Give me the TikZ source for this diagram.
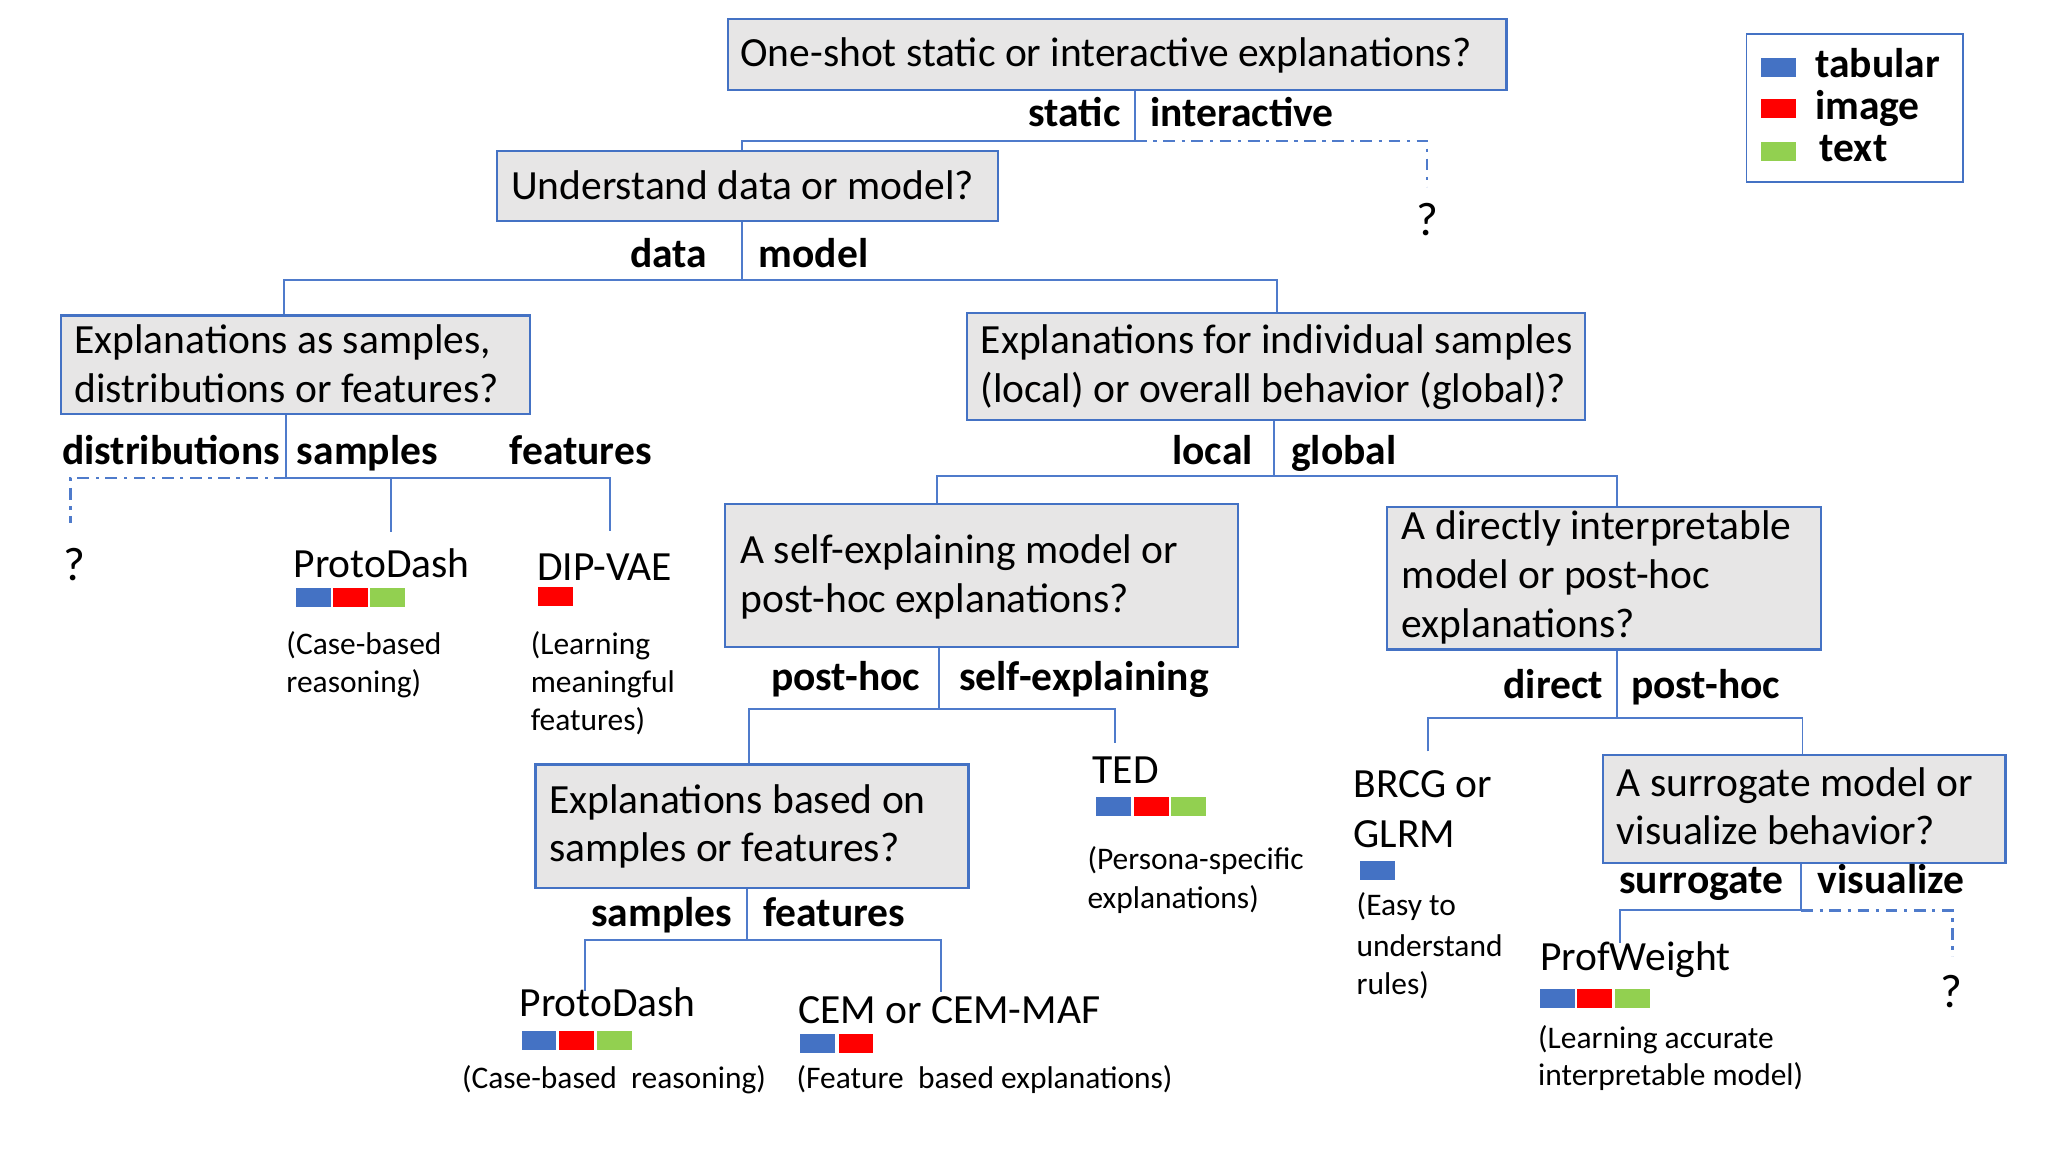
\documentclass[tikz,border=0pt]{standalone}
\usepackage{fontspec}
\setmainfont{Carlito}
\definecolor{boxblue}{HTML}{4472C4}
\definecolor{lineblue}{HTML}{4F7BCB}
\definecolor{boxgray}{RGB}{231,230,230}
\definecolor{tabb}{HTML}{4472C4}
\definecolor{imgr}{HTML}{FF0000}
\definecolor{txtg}{HTML}{92D050}
\tikzset{
  qbox/.style={draw=boxblue, fill=boxgray, line width=1.8pt, inner sep=0pt, anchor=north west},
  legbox/.style={draw=boxblue, fill=white, line width=1.5pt, inner sep=0pt, anchor=north west},
  qtext/.style={anchor=base west, inner sep=0pt, font=\fontsize{31.7}{37}\selectfont},
  lblL/.style={anchor=base east, inner sep=0pt, font=\bfseries\fontsize{31.7}{37}\selectfont},
  lblR/.style={anchor=base west, inner sep=0pt, font=\bfseries\fontsize{31.7}{37}\selectfont},
  leaf/.style={anchor=base west, inner sep=0pt, font=\fontsize{31.7}{37}\selectfont},
  desc/.style={anchor=base west, inner sep=0pt, font=\fontsize{24}{29}\selectfont},
  qmark/.style={anchor=base, inner sep=0pt, font=\fontsize{36}{40}\selectfont},
  conn/.style={draw=lineblue, line width=1.5pt},
  ddash/.style={draw=lineblue, line width=1.9pt, dash pattern=on 9pt off 5pt on 2.5pt off 5pt},
  sq/.style={anchor=north west, inner sep=0pt, minimum width=26.5pt, minimum height=14.5pt},
}
\begin{document}
\begin{tikzpicture}[x=1pt,y=-1pt]
\useasboundingbox (0,0) rectangle (1568,876.4);

% ---------- boxes ----------
\node[qbox, minimum width=594pt, minimum height=54.5pt] (b1) at (555,13.4) {};
\node[qbox, minimum width=382.5pt, minimum height=53.5pt] (b2) at (378.5,114.5) {};
\node[qbox, minimum width=358pt, minimum height=75pt] (b3) at (45.5,240) {};
\node[qbox, minimum width=471.5pt, minimum height=81.8pt] (b4) at (737.5,238) {};
\node[qbox, minimum width=391.5pt, minimum height=109pt] (b5) at (552.5,384) {};
\node[qbox, minimum width=331pt, minimum height=109pt] (b6) at (1058,386) {};
\node[qbox, minimum width=330.5pt, minimum height=94.1pt] (b7) at (408,582.7) {};
\node[qbox, minimum width=307pt, minimum height=82.6pt] (b8) at (1223,575.4) {};
\node[legbox, minimum width=165.5pt, minimum height=112.6pt] (leg) at (1332.5,25.4) {};

% ---------- box texts ----------
\node[qtext] (t1) at (565,51) {One-shot static or interactive explanations?};
\node[qtext] (t2) at (390,152) {Understand data or model?};
\node[qtext] (t3a) at (56.5,269.5) {Explanations as samples,};
\node[qtext] (t3b) at (56.5,307) {distributions or features?};
\node[qtext] (t4a) at (748.5,269.5) {Explanations for individual samples};
\node[qtext] (t4b) at (748.5,307) {(local) or overall behavior (global)?};
\node[qtext] (t5a) at (565,430) {A self-explaining model or};
\node[qtext] (t5b) at (565,467.5) {post-hoc explanations?};
\node[qtext] (t6a) at (1070,412) {A directly interpretable};
\node[qtext] (t6b) at (1070,449.5) {model or post-hoc};
\node[qtext] (t6c) at (1070,487) {explanations?};
\node[qtext] (t7a) at (419,621) {Explanations based on};
\node[qtext] (t7b) at (419,657.5) {samples or features?};
\node[qtext] (t8a) at (1234,608) {A surrogate model or};
\node[qtext] (t8b) at (1234,645) {visualize behavior?};

% ---------- branch labels ----------
\node[lblL] (l1a) at (855.5,96.4) {static};
\node[lblR] (l1b) at (878,96.4) {interactive};
\node[lblL] (l2a) at (540,204) {data};
\node[lblR] (l2b) at (579,204) {model};
\node[lblL] (l3a) at (214,354.7) {distributions};
\node[lblR] (l3b) at (226.5,354.7) {samples};
\node[lblR] (l3c) at (389,354.7) {features};
\node[lblL] (l4a) at (956.5,354.7) {local};
\node[lblR] (l4b) at (985.5,354.7) {global};
\node[lblL] (l5a) at (702.5,526.8) {post-hoc};
\node[lblR] (l5b) at (732,526.8) {self-explaining};
\node[lblL] (l7a) at (559,707.5) {samples};
\node[lblR] (l7b) at (582.5,707.5) {features};
\node[lblL] (l6a) at (1224,533) {direct};
\node[lblR] (l6b) at (1245,533) {post-hoc};
\node[lblL] (l8a) at (1361.5,682) {surrogate};
\node[lblR] (l8b) at (1387.5,682) {visualize};

% ---------- connectors ----------
\coordinate (j1) at (866.5,107.5);
\coordinate (j1l) at (566.5,107.5);
\coordinate (j1r) at (1089.5,107.5);
\coordinate (q1) at (1089.5,142.5);
\draw[conn] (b1.south -| j1) -- (j1) -- (j1l) -- (b2.north -| j1l);
\draw[ddash] (j1) -- (j1r) -- (q1);
\node[qmark] (qm1) at (1089.5,180) {?};

\coordinate (j2) at (566.5,213.7);
\coordinate (j2l) at (216.5,213.7);
\coordinate (j2r) at (974.5,213.7);
\draw[conn] (b2.south -| j2) -- (j2);
\draw[conn] (b3.north -| j2l) -- (j2l) -- (j2r) -- (b4.north -| j2r);

\coordinate (j3) at (218.5,365);
\coordinate (j3a) at (298.5,365);
\coordinate (j3b) at (465.5,365);
\coordinate (j3l) at (54,365);
\coordinate (e3a) at (298.5,406);
\coordinate (e3b) at (465.5,405);
\coordinate (q3) at (54,399.5);
\draw[conn] (b3.south -| j3) -- (j3) -- (j3b) -- (e3b);
\draw[conn] (j3a) -- (e3a);
\draw[ddash] (j3) -- (j3l) -- (q3);
\node[qmark] (qm3) at (57,443) {?};

\coordinate (j4) at (972.5,363);
\coordinate (j4l) at (715,363);
\coordinate (j4r) at (1234.5,363);
\draw[conn] (b4.south -| j4) -- (j4);
\draw[conn] (b5.north -| j4l) -- (j4l) -- (j4r) -- (b6.north -| j4r);

\coordinate (j5) at (716.5,541.3);
\coordinate (j5l) at (571.5,541.3);
\coordinate (j5r) at (851,541.3);
\coordinate (e5r) at (851,567);
\draw[conn] (b5.south -| j5) -- (j5);
\draw[conn] (b7.north -| j5l) -- (j5l) -- (j5r) -- (e5r);

\coordinate (j7) at (570,717.3);
\coordinate (j7l) at (446.5,717.3);
\coordinate (j7r) at (718.5,717.3);
\coordinate (e7l) at (446.5,756.4);
\coordinate (e7r) at (718.5,757);
\draw[conn] (b7.south -| j7) -- (j7);
\draw[conn] (e7l) -- (j7l) -- (j7r) -- (e7r);

\coordinate (j6) at (1234.5,548);
\coordinate (j6l) at (1090,548);
\coordinate (j6r) at (1376,548);
\coordinate (e6l) at (1090,573.5);
\draw[conn] (b6.south -| j6) -- (j6);
\draw[conn] (e6l) -- (j6l) -- (j6r) -- (b8.north -| j6r);

\coordinate (j8) at (1375,695);
\coordinate (j8l) at (1236.5,695);
\coordinate (j8r) at (1490.5,695);
\coordinate (e8l) at (1236.5,720);
\coordinate (q8) at (1490.5,730);
\draw[conn] (b8.south -| j8) -- (j8) -- (j8l) -- (e8l);
\draw[ddash] (j8) -- (j8r) -- (q8);
\node[qmark] (qm8) at (1489.5,769) {?};

% ---------- leaves ----------
\node[leaf] (pd1) at (224,441) {ProtoDash};
\node[sq, fill=tabb] (pd1s1) at (226,449) {};
\node[sq, fill=imgr] (pd1s2) at (254,449) {};
\node[sq, fill=txtg] (pd1s3) at (282.5,449) {};
\node[desc] (pd1d1) at (218.5,500) {(Case-based};
\node[desc] (pd1d2) at (218.5,529) {reasoning)};

\node[leaf] (dv) at (410,443) {DIP-VAE};
\node[sq, fill=imgr] (dvs1) at (410.5,448) {};
\node[desc] (dvd1) at (405,500) {(Learning};
\node[desc] (dvd2) at (405,529) {meaningful};
\node[desc] (dvd3) at (405,557.5) {features)};

\node[leaf] (ted) at (834,598) {TED};
\node[sq, fill=tabb] (teds1) at (836.5,608) {};
\node[sq, fill=imgr] (teds2) at (865.5,608) {};
\node[sq, fill=txtg] (teds3) at (894,608) {};
\node[desc] (tedd1) at (830,664) {(Persona-specific};
\node[desc] (tedd2) at (830,693.6) {explanations)};

\node[leaf] (pd2) at (396.5,776) {ProtoDash};
\node[sq, fill=tabb] (pd2s1) at (398,786.6) {};
\node[sq, fill=imgr] (pd2s2) at (426.5,786.6) {};
\node[sq, fill=txtg] (pd2s3) at (455.5,786.6) {};
\node[desc] (pd2d1) at (352.5,831) {(Case-based\ \ reasoning)};

\node[leaf] (cem) at (609,781) {CEM or CEM-MAF};
\node[sq, fill=tabb] (cems1) at (610.5,789) {};
\node[sq, fill=imgr] (cems2) at (640,789) {};
\node[desc] (cemd1) at (608,831) {(Feature\ \ based explanations)};

\node[leaf] (brcg) at (1033,609) {BRCG or};
\node[leaf] (glrm) at (1033,647) {GLRM};
\node[sq, fill=tabb] (brcgs1) at (1038,656.7) {};
\node[desc] (brcgd1) at (1035.5,699) {(Easy to};
\node[desc] (brcgd2) at (1035.5,730) {understand};
\node[desc] (brcgd3) at (1035.5,759) {rules)};

\node[leaf] (pw) at (1175.5,741) {ProfWeight};
\node[sq, fill=tabb] (pws1) at (1175.5,755) {};
\node[sq, fill=imgr] (pws2) at (1204,755) {};
\node[sq, fill=txtg] (pws3) at (1232.5,755) {};
\node[desc] (pwd1) at (1174,800.5) {(Learning accurate};
\node[desc] (pwd2) at (1174,829) {interpretable model)};

% ---------- legend ----------
\node[sq, fill=tabb] (lg1) at (1344,44) {};
\node[sq, fill=imgr] (lg2) at (1344,75.5) {};
\node[sq, fill=txtg] (lg3) at (1344,108.5) {};
\node[lblR] (lgt1) at (1385.5,59) {tabular};
\node[lblR] (lgt2) at (1385.5,91) {image};
\node[lblR] (lgt3) at (1389,123) {text};
\end{tikzpicture}
\end{document}
